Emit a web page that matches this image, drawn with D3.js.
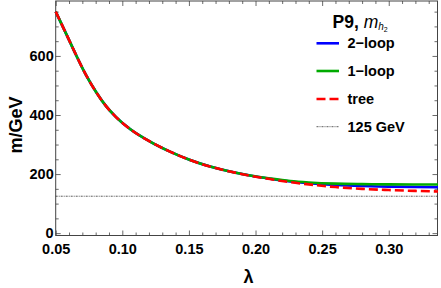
<!DOCTYPE html>
<html>
<head>
<meta charset="utf-8">
<script src="https://cdn.jsdelivr.net/npm/d3@7"></script>
<style>
  body { margin: 0; background: #fff; }
  text { font-family: "Liberation Sans", Arial, sans-serif; font-weight: bold; }
</style>
</head>
<body>
<div id="chart_root"></div>
<script>
// values
const lambda = [0.050, 0.0577, 0.0653, 0.0728, 0.0803, 0.0878, 0.0953, 0.1058, 0.1208,
    0.1358, 0.1509, 0.1659, 0.1809, 0.1959, 0.2109, 0.226, 0.24, 0.26, 0.28, 0.30, 0.32, 0.337];
const twoLoop = [750, 676.5, 603, 535, 478, 430, 393, 352.5, 310,
    276, 247.5, 225.5, 208.5, 195, 184.3, 175, 169, 163, 159.5, 157.5, 156, 155.5];
const oneLoop = [750, 676.5, 603, 535, 478, 430, 393, 352.5, 310,
    276, 247.5, 225.5, 208.5, 195, 185, 176.5, 171.7, 167.6, 166, 165.2, 164.9, 164.9];
const tree = [750, 676.5, 603, 535, 478, 430, 393, 352.5, 310,
    276, 247.5, 225.5, 208.5, 194.5, 183, 172.5, 165, 156, 150, 146, 143, 141];
const higgsMass = 125;
const xTicks = [0.05, 0.10, 0.15, 0.20, 0.25, 0.30];
const yTicks = [0, 200, 400, 600];
const legendLabels = ["2\u2212loop", "1\u2212loop", "tree", "125 GeV"];

const W = 441, H = 288;
const margin = { top: 1, right: 3.5, bottom: 52.5, left: 55.7 };
const width = W - margin.left - margin.right;
const height = H - margin.top - margin.bottom;

const svg = d3.select("#chart_root")
    .append("svg")
    .attr("width", W)
    .attr("height", H)
    .append("g")
    .attr("transform", "translate(" + margin.left + "," + margin.top + ")");

const xAxis = d3.scaleLinear().domain([0.05, 0.3366]).range([0, width]);
const yAxis = d3.scaleLinear().domain([-8, 786]).range([height, 0]);

const frameColor = "#444";
const xMinor = d3.range(0.05, 0.337, 0.01).filter(v => Math.abs(v * 20 - Math.round(v * 20)) > 1e-6);
const yMinor = d3.range(0, 786, 50).filter(v => v % 200 !== 0);

const styleAxis = (g) => {
    g.select(".domain").remove();
    g.selectAll("line").attr("stroke", frameColor).attr("stroke-width", 0.8);
    g.selectAll("text").attr("fill", "#000").style("font-size", "14.5px");
};

// bottom
svg.append("g").attr("transform", "translate(0," + height + ")")
    .call(d3.axisBottom(xAxis).tickValues(xTicks).tickSize(-5).tickPadding(8).tickFormat(d3.format(".2f")))
    .call(styleAxis);
svg.append("g").attr("transform", "translate(0," + height + ")")
    .call(d3.axisBottom(xAxis).tickValues(xMinor).tickSize(-3).tickFormat(""))
    .call(styleAxis);
// top
svg.append("g")
    .call(d3.axisTop(xAxis).tickValues(xTicks).tickSize(-5).tickFormat(""))
    .call(styleAxis);
svg.append("g")
    .call(d3.axisTop(xAxis).tickValues(xMinor).tickSize(-3).tickFormat(""))
    .call(styleAxis);
// left
svg.append("g")
    .call(d3.axisLeft(yAxis).tickValues(yTicks).tickSize(-5).tickPadding(2))
    .call(styleAxis);
svg.append("g")
    .call(d3.axisLeft(yAxis).tickValues(yMinor).tickSize(-3).tickFormat(""))
    .call(styleAxis);
// right
svg.append("g").attr("transform", "translate(" + width + ",0)")
    .call(d3.axisRight(yAxis).tickValues(yTicks).tickSize(-5).tickFormat(""))
    .call(styleAxis);
svg.append("g").attr("transform", "translate(" + width + ",0)")
    .call(d3.axisRight(yAxis).tickValues(yMinor).tickSize(-3).tickFormat(""))
    .call(styleAxis);

svg.append("rect")
    .attr("width", width).attr("height", height)
    .attr("fill", "none").attr("stroke", frameColor).attr("stroke-width", 1);

// 125 GeV reference
svg.append("line")
    .attr("x1", 0).attr("x2", width)
    .attr("y1", yAxis(higgsMass)).attr("y2", yAxis(higgsMass))
    .attr("stroke", "#333").attr("stroke-width", 0.8)
    .attr("stroke-dasharray", "2,1,1,1");

const line = d3.line()
    .x((d, i) => xAxis(lambda[i]))
    .y(d => yAxis(d))
    .curve(d3.curveMonotoneX);

const series = [
    { vals: twoLoop, color: "#0000ff", dash: null },
    { vals: oneLoop, color: "#00aa00", dash: null },
    { vals: tree, color: "#ff0000", dash: "9,4" }
];
series.forEach(s => {
    svg.append("path")
        .datum(s.vals)
        .attr("d", line)
        .attr("fill", "none")
        .attr("stroke", s.color)
        .attr("stroke-width", 2.6)
        .attr("stroke-dasharray", s.dash);
});

// axis titles
svg.append("text")
    .attr("text-anchor", "middle")
    .attr("transform", "translate(" + (-40) + "," + (125 - margin.top) + ") rotate(-90)")
    .attr("dy", "0.35em")
    .style("font-size", "18px")
    .text("m/GeV");

svg.append("text")
    .attr("text-anchor", "middle")
    .attr("x", xAxis(0.2) - 7)
    .attr("y", height + 47)
    .style("font-size", "18px")
    .text("\u03bb");

// legend
const legend = svg.append("g").attr("transform", "translate(" + (316.5 - margin.left) + ",0)");
const title = legend.append("text")
    .attr("x", 16).attr("y", 26.5)
    .style("font-size", "17.5px");
title.append("tspan").text("P9, ");
title.append("tspan").attr("font-style", "italic").attr("font-weight", "normal").text("m");
title.append("tspan").attr("font-style", "italic").attr("font-weight", "normal")
    .style("font-size", "10px").attr("dy", 2.5).text("h");
title.append("tspan").attr("font-weight", "normal")
    .style("font-size", "7px").attr("dy", 1.5).text("2");

const legendStyles = [
    { color: "#0000ff", dash: null, w: 2.6 },
    { color: "#00aa00", dash: null, w: 2.6 },
    { color: "#ff0000", dash: "9,4", w: 2.6 },
    { color: "#333", dash: "2,1,1,1", w: 0.8 }
];
const legendY = [43.3, 71, 99, 126.7];
legendLabels.forEach((lab, i) => {
    const y = legendY[i] - margin.top;
    legend.append("line")
        .attr("x1", 0).attr("x2", 22.5)
        .attr("y1", y).attr("y2", y)
        .attr("stroke", legendStyles[i].color)
        .attr("stroke-width", legendStyles[i].w)
        .attr("stroke-dasharray", legendStyles[i].dash);
    legend.append("text")
        .attr("x", 31).attr("y", y)
        .attr("dy", "0.35em")
        .style("font-size", "14.5px")
        .text(lab);
});
</script>
</body>
</html>
